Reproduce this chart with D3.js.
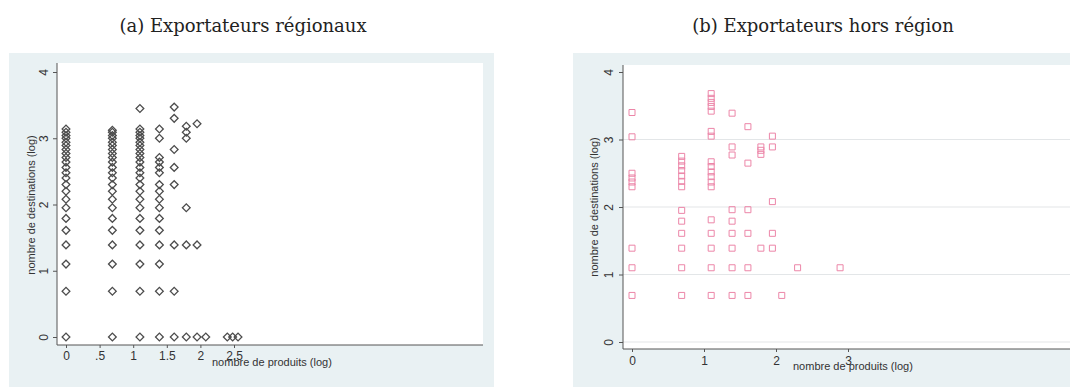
<!DOCTYPE html>
<html lang="fr">
  <head>
    <meta charset="UTF-8" />
    <title>Exportateurs</title>
    <style>
      body { margin: 0; background: #fff; }
    </style>
  </head>
  <body>
    <script src="https://d3js.org/d3.v7.min.js"></script>
    <script>
      // (a) exportateurs régionaux : x = nombre de produits (log), y = destinations (log)
      const regionalProducts = [0, 0.69, 1.1, 1.39, 1.61, 1.79, 1.95, 2.08, 2.4, 2.48, 2.56];
      const regionalDestinations = [
        [0, 0.69, 1.1, 1.39, 1.61, 1.79, 1.95, 2.08, 2.2, 2.3, 2.4, 2.48, 2.56, 2.64, 2.71, 2.77, 2.83, 2.89, 2.94, 3.0, 3.04, 3.09, 3.14],
        [0, 0.69, 1.1, 1.39, 1.61, 1.79, 1.95, 2.08, 2.2, 2.3, 2.4, 2.48, 2.56, 2.64, 2.71, 2.77, 2.83, 2.89, 2.94, 3.0, 3.04, 3.09, 3.12],
        [0, 0.69, 1.1, 1.39, 1.61, 1.79, 1.95, 2.08, 2.2, 2.3, 2.4, 2.48, 2.56, 2.64, 2.71, 2.77, 2.83, 2.89, 2.94, 3.0, 3.04, 3.09, 3.14, 3.45],
        [0, 0.69, 1.1, 1.39, 1.61, 1.79, 1.95, 2.08, 2.2, 2.3, 2.48, 2.56, 2.64, 2.71, 3.0, 3.14],
        [0, 0.69, 1.39, 2.3, 2.56, 2.83, 3.3, 3.47],
        [0, 1.39, 1.95, 3.0, 3.09, 3.18],
        [0, 1.39, 3.22],
        [0],
        [0],
        [0],
        [0],
      ];
      const regionalXTicks = [0, 0.5, 1, 1.5, 2, 2.5];
      const regionalXLabels = ["0", ".5", "1", "1.5", "2", "2.5"];

      // (b) exportateurs hors région
      const outsideProducts = [0, 0.69, 1.1, 1.39, 1.61, 1.79, 1.95, 2.08, 2.3, 2.89];
      const outsideDestinations = [
        [0.69, 1.1, 1.39, 2.3, 2.37, 2.43, 2.5, 3.04, 3.4],
        [0.69, 1.1, 1.39, 1.61, 1.79, 1.95, 2.3, 2.38, 2.46, 2.54, 2.61, 2.68, 2.75],
        [0.69, 1.1, 1.39, 1.61, 1.81, 2.3, 2.37, 2.45, 2.52, 2.6, 2.67, 3.05, 3.12, 3.42, 3.49, 3.55, 3.61, 3.68],
        [0.69, 1.1, 1.39, 1.61, 1.79, 1.96, 2.77, 2.89, 3.39],
        [0.69, 1.1, 1.61, 1.96, 2.65, 3.19],
        [1.39, 2.78, 2.84, 2.89],
        [1.39, 1.61, 2.08, 2.89, 3.05],
        [0.69],
        [1.1],
        [1.1],
      ];
      const outsideXTicks = [0, 1, 2, 3];
      const outsideXLabels = ["0", "1", "2", "3"];

      const yTicks = [0, 1, 2, 3, 4];
      const yLabels = ["0", "1", "2", "3", "4"];

      const svg = d3
        .select("body")
        .append("svg")
        .attr("width", 1070)
        .attr("height", 387);

      const panelBg = "#e9f1f3";
      const sans = "'Liberation Sans', Arial, sans-serif";

      function drawPanel(cfg) {
        const g = svg.append("g");

        // fond du graphique + zone de tracé blanche
        g.append("rect")
          .attr("x", cfg.bg[0])
          .attr("y", cfg.bg[1])
          .attr("width", cfg.bg[2])
          .attr("height", cfg.bg[3])
          .attr("fill", panelBg);
        g.append("rect")
          .attr("x", cfg.plot[0])
          .attr("y", cfg.plot[1])
          .attr("width", cfg.plot[2])
          .attr("height", cfg.plot[3])
          .attr("fill", "#fff");

        const x = d3.scaleLinear().domain(cfg.xDomain).range(cfg.xRange);
        const y = d3.scaleLinear().domain([0, 4]).range(cfg.yRange);

        // lignes de grille
        if (cfg.grid) {
          g.append("g")
            .selectAll("line")
            .data(cfg.grid)
            .join("line")
            .attr("x1", cfg.plot[0])
            .attr("x2", cfg.plot[0] + cfg.plot[2])
            .attr("y1", (d) => y(d))
            .attr("y2", (d) => y(d))
            .attr("stroke", "#e3e6e8")
            .attr("stroke-width", 1.2);
        }

        // axe y
        const yAxis = g
          .append("g")
          .attr("transform", `translate(${cfg.axisX},0)`)
          .call(
            d3
              .axisLeft(y)
              .tickValues(yTicks)
              .tickFormat((d, i) => yLabels[i])
              .tickSize(4)
              .tickSizeOuter(0)
          );
        yAxis.select(".domain").attr("d", `M0,${cfg.plot[1]}V${cfg.axisY}`);
        yAxis
          .selectAll("text")
          .attr("x", 0)
          .attr("dy", null)
          .attr("transform", `translate(${cfg.yLabelX},0) rotate(-90)`)
          .attr("y", 0)
          .attr("text-anchor", "middle")
          .attr("font-family", sans)
          .attr("font-size", 12)
          .attr("fill", "#333");

        // axe x
        const xAxis = g
          .append("g")
          .attr("transform", `translate(0,${cfg.axisY})`)
          .call(
            d3
              .axisBottom(x)
              .tickValues(cfg.xTicks)
              .tickFormat((d, i) => cfg.xLabels[i])
              .tickSize(3)
              .tickSizeOuter(0)
          );
        xAxis.select(".domain").attr("d", `M${cfg.axisX},0H${cfg.axisEnd}`);
        xAxis
          .selectAll("text")
          .attr("y", cfg.xLabelY)
          .attr("dy", null)
          .attr("font-family", sans)
          .attr("font-size", 12)
          .attr("fill", "#333");
        g.selectAll(".domain, .tick line").attr("stroke", "#555");

        // titres d'axes
        g.append("text")
          .attr("x", cfg.xTitle[0])
          .attr("y", cfg.xTitle[1])
          .attr("font-family", sans)
          .attr("font-size", 11)
          .attr("fill", "#333")
          .text("nombre de produits (log)");
        g.append("text")
          .attr("transform", `translate(${cfg.yTitle[0]},${cfg.yTitle[1]}) rotate(-90)`)
          .attr("text-anchor", "middle")
          .attr("font-family", sans)
          .attr("font-size", 11)
          .attr("fill", "#333")
          .text("nombre de destinations (log)");

        // titre du panneau
        svg
          .append("text")
          .attr("x", cfg.title[0])
          .attr("y", cfg.title[1])
          .attr("text-anchor", "middle")
          .attr("font-family", "'DejaVu Serif', 'Liberation Serif', serif")
          .attr("font-size", 18)
          .attr("fill", "#222")
          .text(cfg.titleText);

        // points
        const pts = [];
        cfg.products.forEach((p, i) => {
          cfg.destinations[i].forEach((d) => pts.push([p, d]));
        });
        const sym = d3.symbol().type(d3.symbolSquare).size(cfg.symSize)();
        g.append("g")
          .selectAll("path")
          .data(pts)
          .join("path")
          .attr("d", sym)
          .attr(
            "transform",
            (d) => `translate(${x(d[0])},${y(d[1])}) rotate(${cfg.rotate})`
          )
          .attr("fill", "none")
          .attr("stroke", cfg.color)
          .attr("stroke-width", cfg.strokeWidth);
      }

      drawPanel({
        titleText: "(a) Exportateurs régionaux",
        title: [243, 32],
        bg: [9, 53, 485, 334],
        plot: [57, 63, 426, 282],
        axisX: 57,
        axisY: 345,
        axisEnd: 483,
        xDomain: [0, 2.5],
        xRange: [66, 234],
        yRange: [337, 72],
        xTicks: regionalXTicks,
        xLabels: regionalXLabels,
        xLabelY: 15,
        yLabelX: -9,
        xTitle: [212, 366],
        yTitle: [35, 205],
        products: regionalProducts,
        destinations: regionalDestinations,
        symSize: 30,
        rotate: 45,
        color: "#4d4d4d",
        strokeWidth: 1.3,
      });

      drawPanel({
        titleText: "(b) Exportateurs hors région",
        title: [823, 32],
        bg: [573, 53, 497, 334],
        plot: [623, 65, 447, 284],
        axisX: 623,
        axisY: 349,
        axisEnd: 1070,
        xDomain: [0, 3],
        xRange: [632, 848],
        yRange: [342, 72],
        grid: [0, 1, 2, 3],
        xTicks: outsideXTicks,
        xLabels: outsideXLabels,
        xLabelY: 16,
        yLabelX: -10,
        xTitle: [793, 370],
        yTitle: [598, 207],
        products: outsideProducts,
        destinations: outsideDestinations,
        symSize: 36,
        rotate: 0,
        color: "#ec86a8",
        strokeWidth: 1,
      });
    </script>
  </body>
</html>
